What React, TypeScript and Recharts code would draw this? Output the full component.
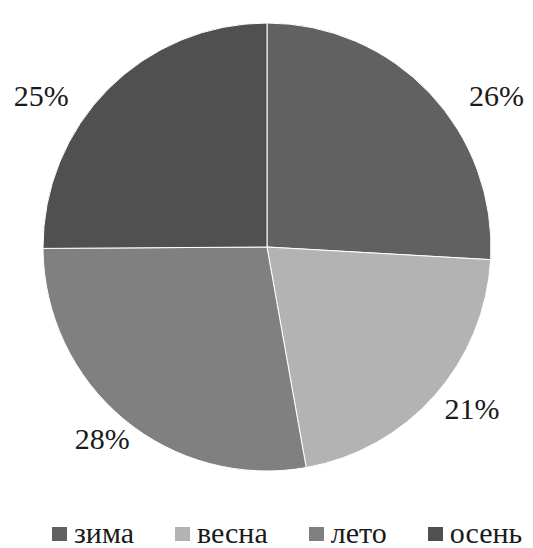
import { PieChart, Pie, Cell } from "recharts";

const seasons = ["зима", "весна", "лето", "осень"];
const shares = [25.9, 21.3, 27.7, 25.1];
const colors = ["#616161", "#b3b3b3", "#808080", "#505050"];

// small per-label nudges so the % labels sit where the original put them
const labelNudge = [
  [39, 28],
  [9, -12],
  [3, -10],
  [-40, 33],
];

const data = seasons.map((name, i) => ({ name, value: shares[i] }));

const FONT = "'Liberation Serif'";
const RADIAN = Math.PI / 180;

function renderLabel(props: any) {
  const { cx, cy, midAngle, outerRadius, percent, index } = props;
  const r = outerRadius + 38;
  const x = cx + r * Math.cos(-midAngle * RADIAN) + labelNudge[index][0];
  const y = cy + r * Math.sin(-midAngle * RADIAN) + labelNudge[index][1];
  return (
    <text x={x} y={y} style={{ fontFamily: FONT, fontSize: 30 }} fill="#1a1a1a" textAnchor="middle" dominantBaseline="central">
      {Math.round(percent * 100)}%
    </text>
  );
}

export default function App() {
  // the body keeps its 8px margin, so the chart is drawn 8px up/left of the reference coordinates
  return (
    <div>
      <PieChart width={525} height={512}>
        <Pie
          data={data}
          dataKey="value"
          nameKey="name"
          cx={254}
          cy={234}
          outerRadius={224}
          startAngle={90}
          endAngle={-270}
          stroke="#ffffff"
          strokeWidth={1}
          label={renderLabel}
          labelLine={false}
          isAnimationActive={false}
        >
          {data.map((d, i) => (
            <Cell key={d.name} fill={colors[i]} />
          ))}
        </Pie>
      </PieChart>
      <div style={{ display: "flex", alignItems: "center", paddingLeft: 44, fontFamily: FONT, fontSize: 30, lineHeight: "26px", color: "#1a1a1a" }}>
        {seasons.map((s, i) => (
          <div key={s} style={{ display: "flex", alignItems: "center", marginRight: i < seasons.length - 1 ? 41 : 0 }}>
            <span style={{ display: "inline-block", width: 15, height: 14, background: colors[i], marginRight: 7, marginTop: 2 }} />
            <span style={{ fontFamily: FONT }}>{s}</span>
          </div>
        ))}
      </div>
    </div>
  );
}
